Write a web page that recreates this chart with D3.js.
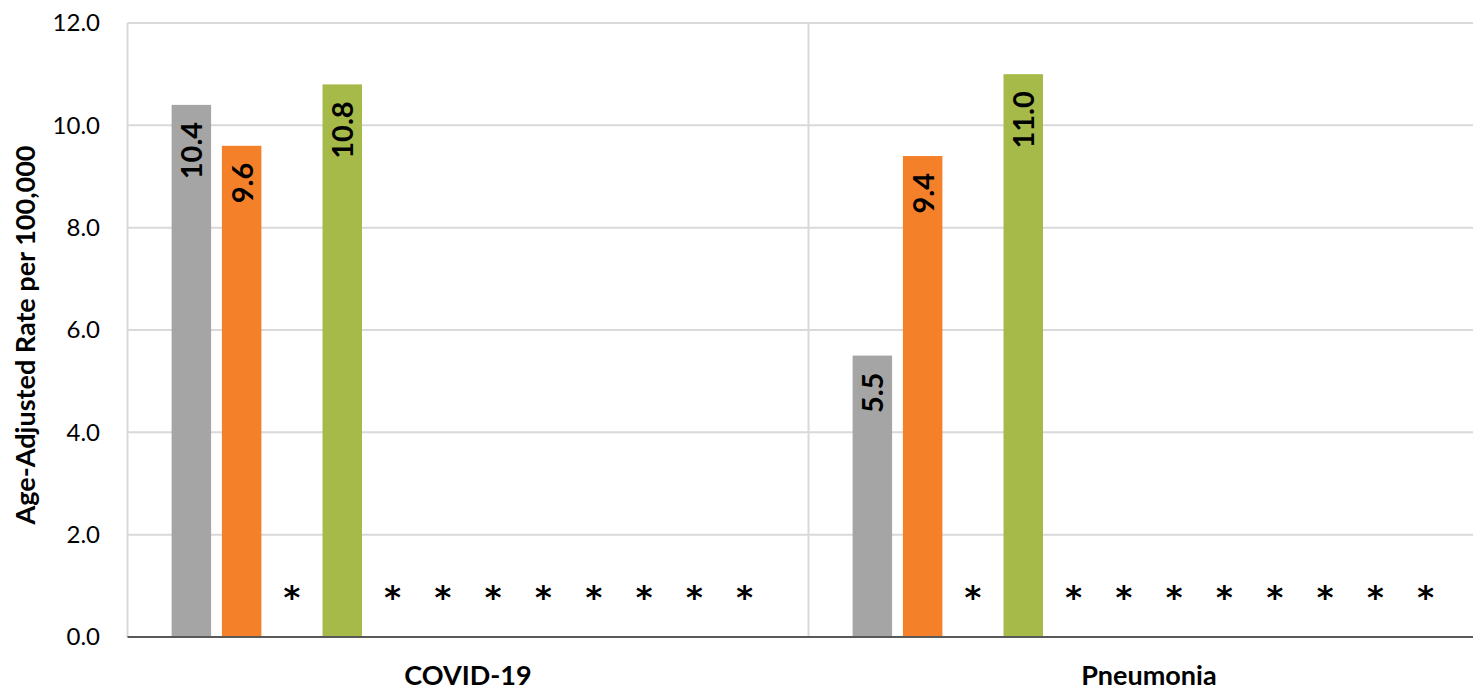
<!DOCTYPE html>
<html><head><meta charset="utf-8">
<script src="https://cdn.jsdelivr.net/npm/d3@7"></script>
<style>
html,body{margin:0;padding:0;background:#fff;overflow:hidden;}
svg{display:block;font-family:Lato, "Open Sans", sans-serif;}
</style></head>
<body>
<svg id="chart" width="1473" height="690"></svg>
<script>
const categories = ["COVID-19", "Pneumonia"];
const seriesNames = ["S1","S2","S3","S4","S5","S6","S7","S8","S9","S10","S11","S12"];
const covidValues = [10.4, 9.6, null, 10.8, null, null, null, null, null, null, null, null];
const pneumoniaValues = [5.5, 9.4, null, 11.0, null, null, null, null, null, null, null, null];
const seriesColors = ["#A5A5A5", "#F5802A", "#A5A5A5", "#A6BA4A", "#A5A5A5", "#A5A5A5", "#A5A5A5", "#A5A5A5", "#A5A5A5", "#A5A5A5", "#A5A5A5", "#A5A5A5"];
const yTicks = [0, 2, 4, 6, 8, 10, 12];
const suppressedMark = "*";

const valuesByCat = [covidValues, pneumoniaValues];
const data = categories.map((c, i) => ({cat: c, vals: seriesNames.map((s, j) => ({s, j, v: valuesByCat[i][j]}))}));

const svg = d3.select("#chart");
const L = 127.5, R = 1489.5, T = 23, B = 637;

const y = d3.scaleLinear().domain([0, 12]).range([B, T]);
const x0 = d3.scaleBand().domain(categories).range([L, R]).padding(0);
const x1 = d3.scaleBand().domain(seriesNames).range([0, x0.bandwidth()]).paddingInner(0.215).paddingOuter(0.877);

// horizontal gridlines
svg.append("g").selectAll("line").data(yTicks.filter(d => d > 0)).join("line")
  .attr("x1", L).attr("x2", R).attr("y1", d => y(d)).attr("y2", d => y(d))
  .attr("stroke", "#D9D9D9").attr("stroke-width", 2);

// vertical category separators
const seps = [L, ...categories.map(c => x0(c) + x0.bandwidth())];
svg.append("g").selectAll("line").data(seps).join("line")
  .attr("x1", d => d).attr("x2", d => d).attr("y1", T).attr("y2", B)
  .attr("stroke", "#D9D9D9").attr("stroke-width", 2);

// y tick labels
svg.append("g").selectAll("text").data(yTicks).join("text")
  .attr("x", 100).attr("y", d => y(d)).attr("dy", "0.35em")
  .attr("text-anchor", "end").attr("font-size", 24).attr("fill", "#000")
  .text(d => d3.format(".1f")(d));

// y title
svg.append("text")
  .attr("transform", `translate(35,${(T + B) / 2 + 5}) rotate(-90)`)
  .attr("text-anchor", "middle").attr("font-size", 27).attr("font-weight", "bold")
  .text("Age-Adjusted Rate per 100,000");

const groups = svg.append("g").selectAll("g").data(data).join("g")
  .attr("transform", d => `translate(${x0(d.cat)},0)`);

// bars
groups.selectAll("rect").data(d => d.vals.filter(v => v.v != null)).join("rect")
  .attr("x", d => x1(d.s)).attr("width", x1.bandwidth())
  .attr("y", d => y(d.v)).attr("height", d => y(0) - y(d.v))
  .attr("fill", d => seriesColors[d.j]);

// value labels
groups.selectAll("text.val").data(d => d.vals.filter(v => v.v != null)).join("text")
  .attr("class", "val")
  .attr("transform", d => `translate(${x1(d.s) + x1.bandwidth() / 2 + 11},${y(d.v) + 17}) rotate(-90)`)
  .attr("text-anchor", "end").attr("font-size", 29).attr("font-weight", "bold")
  .text(d => d3.format(".1f")(d.v));

// suppressed markers
groups.selectAll("text.sup").data(d => d.vals.filter(v => v.v == null)).join("text")
  .attr("class", "sup")
  .attr("x", d => x1(d.s) + x1.bandwidth() / 2).attr("y", y(0) - 29)
  .attr("text-anchor", "middle").attr("font-size", 32).attr("font-weight", "bold")
  .attr("font-family", "'DejaVu Sans', sans-serif")
  .text(suppressedMark);

// x axis line
svg.append("line").attr("x1", L).attr("x2", R).attr("y1", B).attr("y2", B)
  .attr("stroke", "#595959").attr("stroke-width", 2);

// category labels
svg.append("g").selectAll("text").data(categories).join("text")
  .attr("x", d => x0(d) + x0.bandwidth() / 2).attr("y", 685)
  .attr("text-anchor", "middle").attr("font-size", 27).attr("font-weight", "bold")
  .text(d => d);
</script>
</body></html>
